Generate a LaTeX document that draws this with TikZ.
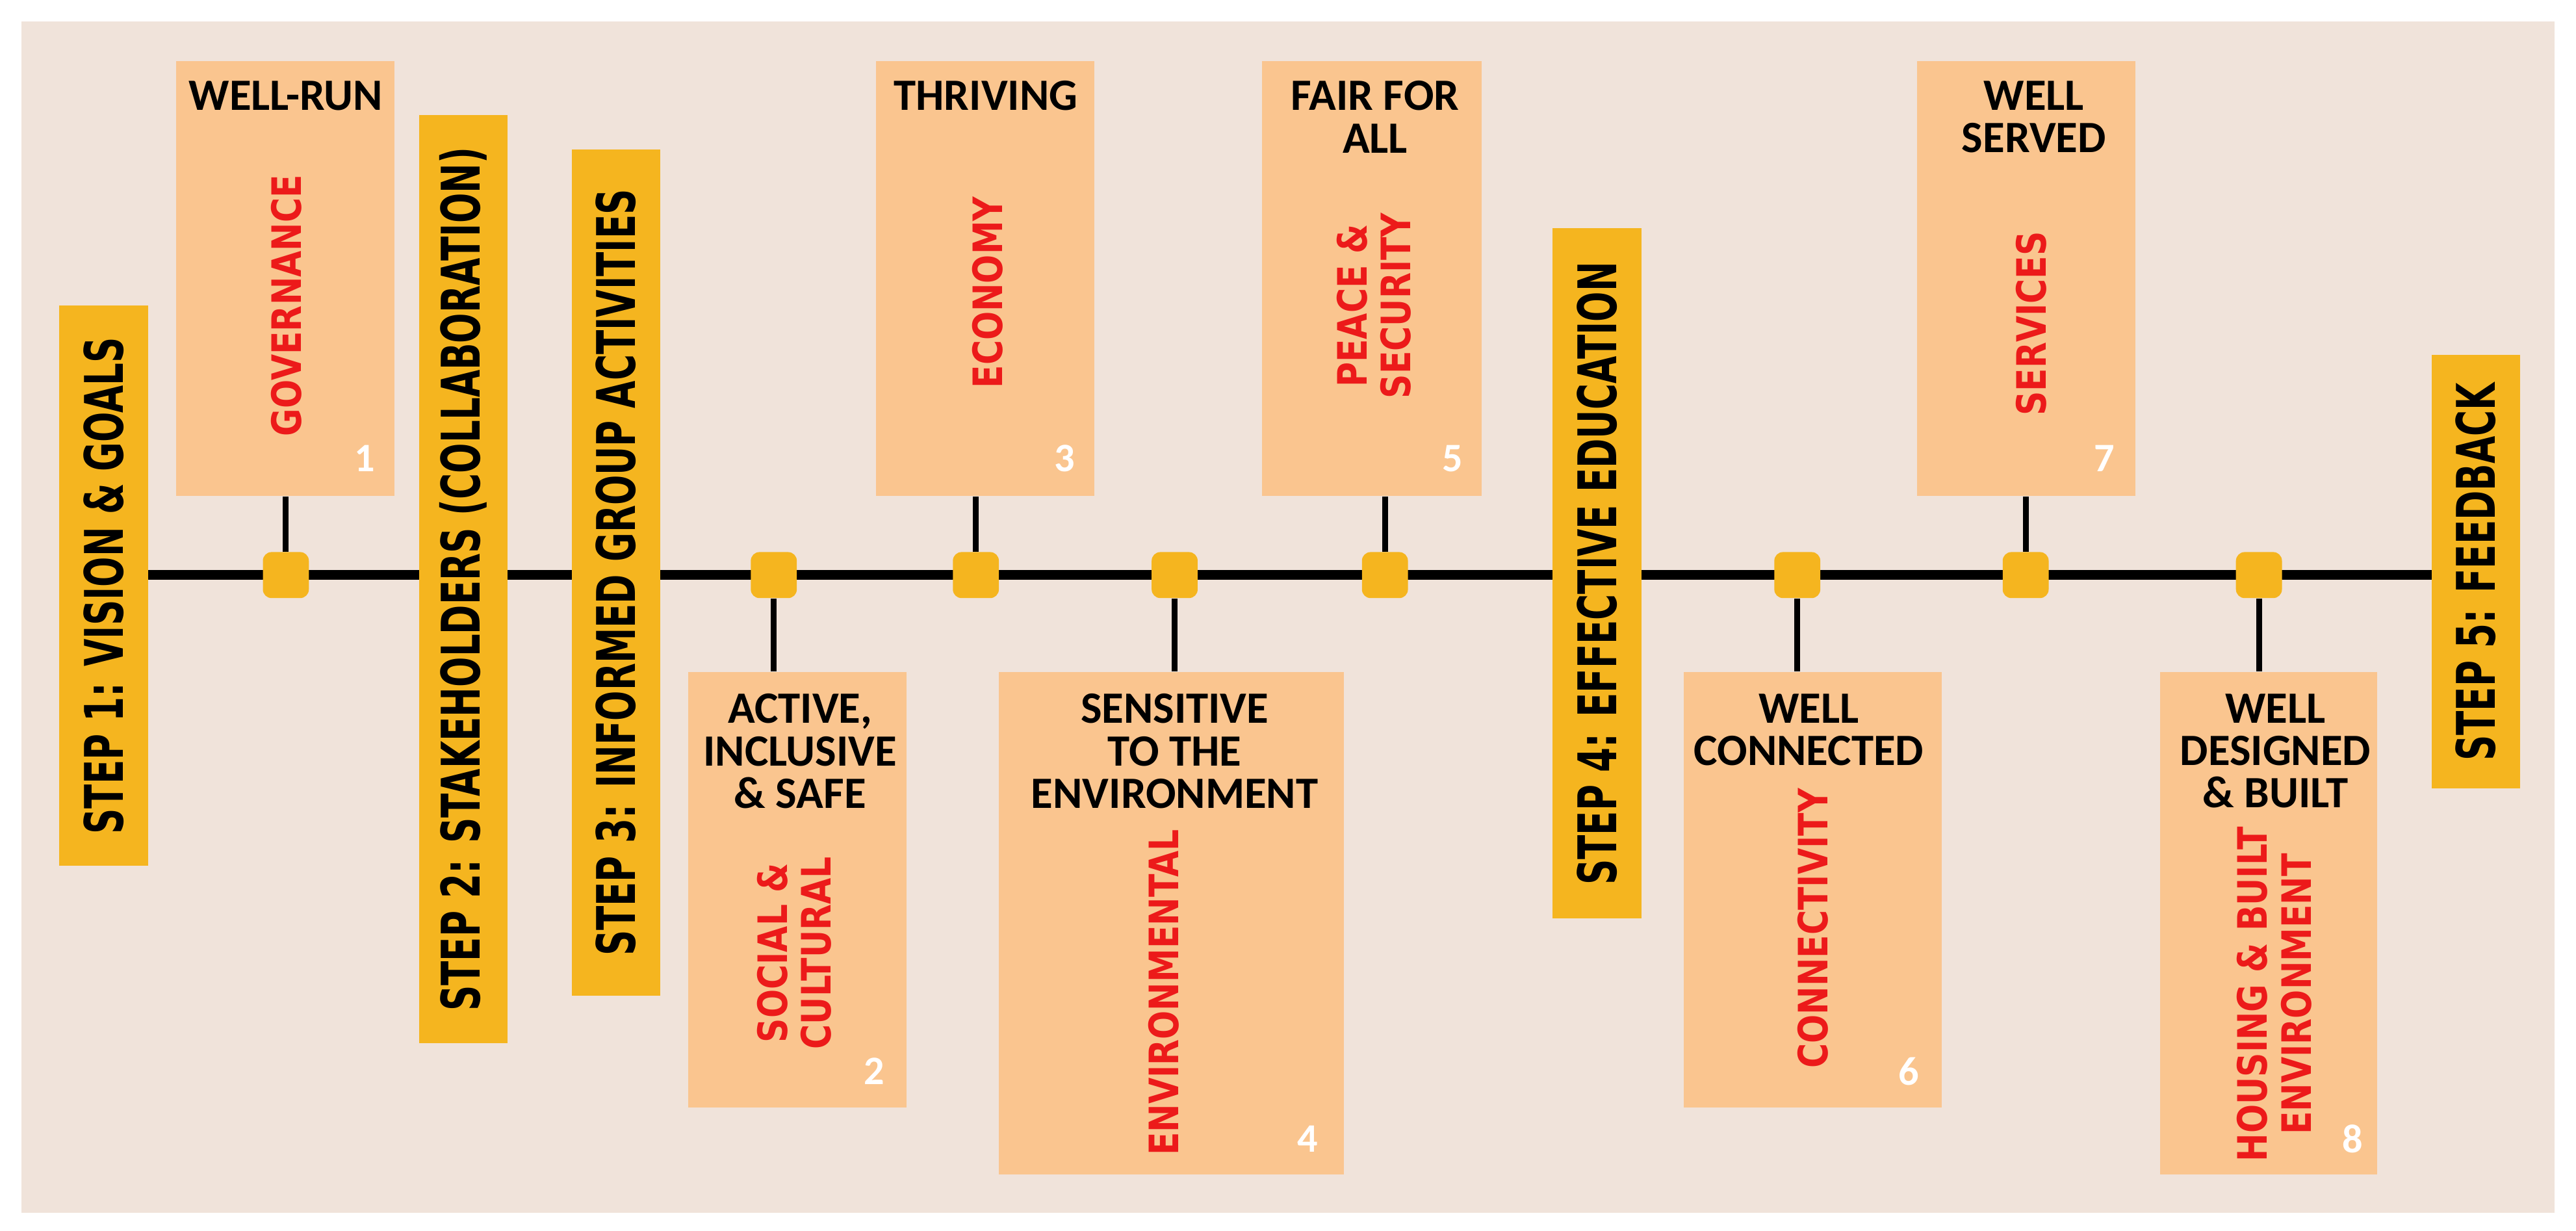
\documentclass[tikz,border=0pt]{standalone}
\usepackage{fontspec}
\usepackage{graphicx}
\setmainfont{Carlito}
\newfontfamily\wide{DejaVu Sans}
\newcommand{\redtxt}[1]{\scalebox{1}[1.2]{\wide\bfseries\fontsize{11.7}{12.6}\selectfont\begin{tabular}{@{}c@{}}#1\end{tabular}}}
\newcommand{\steptxt}[1]{\scalebox{1}[1.5]{\wide\bfseries\fontsize{12.3}{13}\selectfont #1}}
\begin{document}
\begin{tikzpicture}[x=0.02cm,y=-0.02cm,font=\bfseries,
 ubox/.style={fill=boxc,inner sep=0},
 stepbox/.style={fill=gold,rotate=90,inner sep=0},
 sq/.style={fill=gold,rounded corners=3pt,minimum size=0.56cm,inner sep=0},
 ttl/.style={align=center,font=\bfseries\fontsize{15.5}{14.7}\selectfont,text=black,inner sep=0},
 red/.style={rotate=90,text=redt,inner sep=0},
 num/.style={text=white,font=\bfseries\fontsize{14}{14}\selectfont,inner sep=0},
 stem/.style={line width=2pt}]
\definecolor{bg}{HTML}{F0E3DA}
\definecolor{boxc}{HTML}{FAC58F}
\definecolor{gold}{HTML}{F5B51F}
\definecolor{redt}{HTML}{EC1A1A}
\fill[white] (0,0) rectangle (1568,749);
\fill[bg] (13,13) rectangle (1555,738);
\useasboundingbox (0,0) rectangle (1568,749);
\coordinate (tl) at (90,350); \coordinate (tr) at (1480,350);
\draw[line width=3.4pt] (tl) -- (tr);
% upper boxes (y 37-302)
\node[ubox,minimum width=2.66cm,minimum height=5.3cm] (b1) at (173.5,169.5) {};
\node[ubox,minimum width=2.66cm,minimum height=5.3cm] (b3) at (599.5,169.5) {};
\node[ubox,minimum width=2.68cm,minimum height=5.3cm] (b5) at (835,169.5) {};
\node[ubox,minimum width=2.66cm,minimum height=5.3cm] (b7) at (1233.5,169.5) {};
% lower boxes (top 409)
\node[ubox,minimum width=2.66cm,minimum height=5.3cm] (b2) at (485.5,541.5) {};
\node[ubox,minimum width=4.2cm,minimum height=6.12cm] (b4) at (713,562) {};
\node[ubox,minimum width=3.14cm,minimum height=5.3cm] (b6) at (1103.5,541.5) {};
\node[ubox,minimum width=2.64cm,minimum height=6.12cm] (b8) at (1381,562) {};
% squares
\node[sq] (s1) at (174,350) {};
\node[sq] (s2) at (471,350) {};
\node[sq] (s3) at (594,350) {};
\node[sq] (s4) at (715,350) {};
\node[sq] (s5) at (843,350) {};
\node[sq] (s6) at (1094,350) {};
\node[sq] (s7) at (1233,350) {};
\node[sq] (s8) at (1375,350) {};
\draw[stem] (s1.north) -- (s1.north |- b1.south);
\draw[stem] (s3.north) -- (s3.north |- b3.south);
\draw[stem] (s5.north) -- (s5.north |- b5.south);
\draw[stem] (s7.north) -- (s7.north |- b7.south);
\draw[stem] (s2.south) -- (s2.south |- b2.north);
\draw[stem] (s4.south) -- (s4.south |- b4.north);
\draw[stem] (s6.south) -- (s6.south |- b6.north);
\draw[stem] (s8.south) -- (s8.south |- b8.north);
% steps
\node[stepbox,minimum width=6.82cm,minimum height=1.08cm] (st1) at (63,356.5) {\steptxt{STEP 1: VISION \& GOALS}};
\node[stepbox,minimum width=11.3cm,minimum height=1.08cm] (st2) at (282,352.5) {\steptxt{STEP 2: STAKEHOLDERS (COLLABORATION)}};
\node[stepbox,minimum width=10.3cm,minimum height=1.08cm] (st3) at (375,348.5) {\steptxt{STEP 3: INFORMED GROUP ACTIVITIES}};
\node[stepbox,minimum width=8.4cm,minimum height=1.08cm] (st4) at (972,349) {\steptxt{STEP 4: EFFECTIVE EDUCATION}};
\node[stepbox,minimum width=5.28cm,minimum height=1.08cm] (st5) at (1507,348) {\steptxt{STEP 5: FEEDBACK}};
% texts upper
\node[ttl,anchor=north] (t1) at (174,49) {WELL-RUN};
\node[red] (r1) at (178,186) {\redtxt{GOVERNANCE}};
\node[num] (n1) at (222,279) {1};
\node[ttl,anchor=north] (t3) at (600,49) {THRIVING};
\node[red] (r3) at (605,178) {\redtxt{ECONOMY}};
\node[num] (n3) at (648,279) {3};
\node[ttl,anchor=north] (t5) at (837,49) {FAIR FOR\\ALL};
\node[red] (r5) at (840,186) {\redtxt{PEACE \&\\SECURITY}};
\node[num] (n5) at (884,279) {5};
\node[ttl,anchor=north] (t7) at (1238,49) {WELL\\SERVED};
\node[red] (r7) at (1240,197) {\redtxt{SERVICES}};
\node[num] (n7) at (1281,279) {7};
% texts lower
\node[ttl,anchor=north] (t2) at (487,422) {ACTIVE,\\INCLUSIVE\\\& SAFE};
\node[red] (r2) at (487,580) {\redtxt{SOCIAL \&\\CULTURAL}};
\node[num] (n2) at (532,652) {2};
\node[ttl,anchor=north] (t4) at (715,422) {SENSITIVE\\TO THE\\ENVIRONMENT};
\node[red] (r4) at (712,604) {\redtxt{ENVIRONMENTAL}};
\node[num] (n4) at (796,693) {4};
\node[ttl,anchor=north] (t6) at (1101,422) {WELL\\CONNECTED};
\node[red] (r6) at (1107,565) {\redtxt{CONNECTIVITY}};
\node[num] (n6) at (1162,652) {6};
\node[ttl,anchor=north] (t8) at (1385,422) {WELL\\DESIGNED\\\& BUILT};
\node[red] (r8) at (1388,605) {\redtxt{HOUSING \& BUILT\\ENVIRONMENT}};
\node[num] (n8) at (1432,693) {8};
\end{tikzpicture}
\end{document}
